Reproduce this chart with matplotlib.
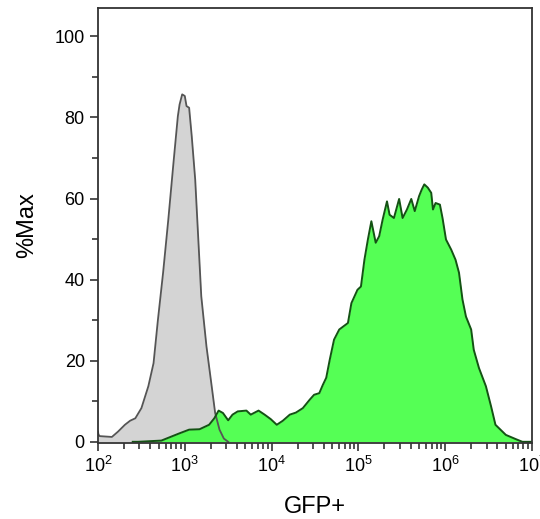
import numpy as np
import matplotlib
matplotlib.use('Agg')
import matplotlib.pyplot as plt
from matplotlib.ticker import LogLocator, MultipleLocator, NullFormatter

# log10 of GFP intensity and %Max
gray_log = [2.00, 2.005, 2.02, 2.16, 2.23, 2.31, 2.37, 2.43, 2.50, 2.58, 2.64, 2.69, 2.75,
            2.81, 2.87, 2.92, 2.94, 2.97, 3.00, 3.02, 3.05, 3.08, 3.12, 3.16,
            3.19, 3.25, 3.31, 3.35, 3.40, 3.45, 3.50]
gray_pct = [2.5, 1.8, 1.4, 1.2, 2.5, 4.2, 5.2, 5.8, 8.3, 13.7, 19.4, 30.0, 41.7,
            54.8, 68.9, 80.3, 83.2, 85.7, 85.3, 82.8, 82.4, 75.4, 64.7, 48.2,
            35.9, 23.5, 13.7, 7.1, 3.0, 0.8, 0.0]

green_log = [2.40, 2.46, 2.73, 2.94, 3.05, 3.17, 3.28, 3.34, 3.39, 3.44, 3.50, 3.55,
             3.61, 3.71, 3.76, 3.85, 3.92, 3.99, 4.06, 4.13, 4.21, 4.28, 4.36,
             4.44, 4.49, 4.55, 4.59, 4.63, 4.67, 4.72, 4.78, 4.88, 4.92, 4.99,
             5.03, 5.07, 5.11, 5.15, 5.20, 5.24, 5.28, 5.33, 5.36, 5.41, 5.47,
             5.51, 5.56, 5.61, 5.65, 5.70, 5.73, 5.76, 5.80, 5.84, 5.86, 5.89,
             5.94, 5.97, 6.01, 6.07, 6.12, 6.16, 6.20, 6.24, 6.30, 6.33, 6.39,
             6.47, 6.53, 6.58, 6.70, 6.81, 6.89, 7.00]
green_pct = [0.0, 0.0, 0.3, 2.1, 3.0, 3.1, 4.2, 5.8, 7.7, 7.1, 5.3, 6.7,
             7.5, 7.7, 6.7, 7.7, 6.7, 5.6, 4.2, 5.2, 6.7, 7.2, 8.3,
             10.4, 11.6, 12.0, 14.0, 15.8, 20.2, 25.2, 27.7, 29.3, 34.2, 37.5,
             38.3, 44.9, 49.9, 54.4, 49.1, 50.7, 54.8, 59.3, 56.0, 55.2, 59.9,
             55.2, 57.3, 59.9, 56.9, 60.6, 62.2, 63.5, 62.7, 61.4, 57.3, 58.9,
             58.5, 55.2, 49.9, 47.4, 44.9, 41.7, 35.1, 30.9, 27.7, 22.7, 18.2,
             13.7, 8.7, 4.2, 1.7, 0.7, 0.0, 0.0]

gray_x = 10 ** np.array(gray_log)
green_x = 10 ** np.array(green_log)

plt.rcParams['font.family'] = ['Liberation Sans', 'DejaVu Sans']

fig = plt.figure(figsize=(5.4, 5.19), dpi=100)
ax = fig.add_axes([0.1815, 0.1464, 0.8035, 0.8382])

ax.fill_between(gray_x, 0, gray_pct, color='#d4d4d4', lw=0)
ax.plot(gray_x, gray_pct, color='#555555', lw=1.3)
ax.fill_between(green_x, 0, green_pct, color='#42ff42', alpha=0.9, lw=0)
ax.plot(green_x, green_pct, color='#145214', lw=1.4)

ax.set_xscale('log')
ax.set_xlim(1e2, 1e7)
ax.set_ylim(-0.3, 107)

ax.yaxis.set_major_locator(MultipleLocator(20))
ax.yaxis.set_minor_locator(MultipleLocator(10))
ax.xaxis.set_major_locator(LogLocator(base=10, numticks=10))
ax.xaxis.set_minor_locator(LogLocator(base=10, subs=np.arange(2, 10), numticks=20))
ax.xaxis.set_minor_formatter(NullFormatter())

ax.tick_params(which='both', direction='out', color='#333333', width=1.2)
ax.tick_params(which='major', length=6, labelsize=13)
ax.tick_params(axis='y', which='minor', length=4)
ax.tick_params(axis='x', which='minor', length=4)

for s in ax.spines.values():
    s.set_color('#333333')
    s.set_linewidth(1.3)

ax.set_xlabel('GFP+', fontsize=17, labelpad=14)
ax.set_ylabel('%Max', fontsize=17, labelpad=12)

fig.savefig('out.png', dpi=100)
